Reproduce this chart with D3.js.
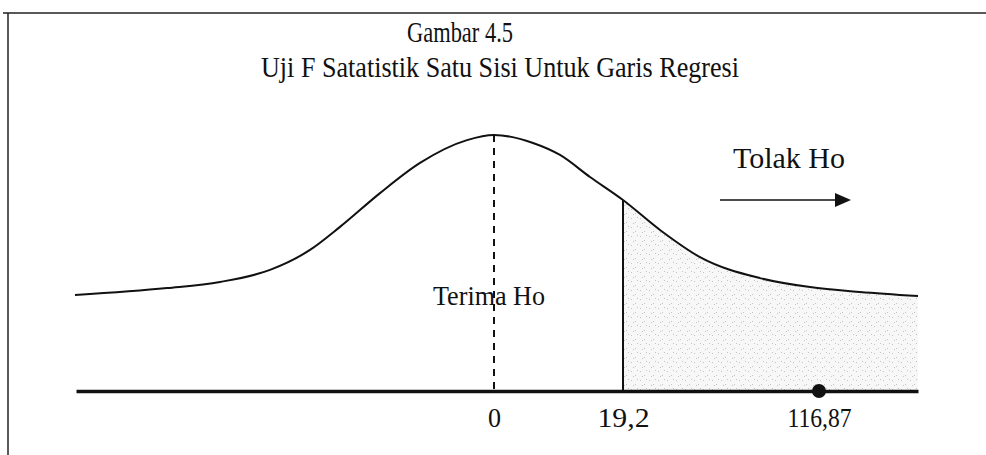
<!DOCTYPE html>
<html>
<head>
<meta charset="utf-8">
<script src="https://cdn.jsdelivr.net/npm/d3@7"></script>
<style>
  body { margin: 0; background: #fff; }
  svg text { font-family: "Liberation Serif", "DejaVu Serif", serif; fill: #111; }
</style>
</head>
<body>
<svg id="chart"></svg>
<script>
// schematic curve (x in units from centre, y as share of peak height)
const curveX = [-4.19, -3.27, -2.74, -2.24, -1.84, -1.54, -1.14, -0.74, -0.27, 0, 0.39, 0.66, 0.96, 1.29, 1.66, 2.06, 2.66, 3.16, 3.66, 4.24];
const curveY = [0.375, 0.402, 0.426, 0.473, 0.551, 0.641, 0.773, 0.891, 0.980, 1, 0.969, 0.922, 0.836, 0.746, 0.629, 0.523, 0.441, 0.406, 0.387, 0.371];

const tickPos = [0, 1.29, 3.25];
const tickLabels = ["0", "19,2", "116,87"];
const critical = 1.29;   // F tabel
const observed = 3.25;   // F hitung

const titleLines = ["Gambar 4.5", "Uji F Satatistik Satu Sisi Untuk Garis Regresi"];

const width = 986, height = 455;
const svg = d3.select("#chart").attr("width", width).attr("height", height);

const x = d3.scaleLinear().domain([-4.18, 4.24]).range([76, 918]);
const y = d3.scaleLinear().domain([0, 1]).range([391, 135]);

const pts = curveX.map((v, i) => ({x: v, y: curveY[i]}));

// the scanned type is a narrow Times: squeeze text to a measured width
function squeeze(sel, w) {
  sel.attr("textLength", w).attr("lengthAdjust", "spacingAndGlyphs");
}

// frame
svg.append("line").attr("x1", 3).attr("x2", 986).attr("y1", 13).attr("y2", 13)
  .attr("stroke", "#222").attr("stroke-width", 1.5);
svg.append("line").attr("x1", 8).attr("x2", 8).attr("y1", 13).attr("y2", 455)
  .attr("stroke", "#222").attr("stroke-width", 1.5);

// title
svg.selectAll(".title").data(titleLines).enter().append("text")
  .attr("class", "title")
  .attr("x", (d, i) => i == 0 ? 460 : 500)
  .attr("y", (d, i) => 42 + i * 35)
  .attr("text-anchor", "middle")
  .style("font-size", "30px")
  .attr("textLength", (d, i) => i == 0 ? 106 : 478)
  .attr("lengthAdjust", "spacingAndGlyphs")
  .text(d => d);

// stipple for the rejection area
const pat = svg.append("defs").append("pattern")
  .attr("id", "dots").attr("width", 9).attr("height", 9)
  .attr("patternUnits", "userSpaceOnUse");
pat.append("rect").attr("width", 9).attr("height", 9).attr("fill", "#f7f7f7");
[[1, 2], [5, 6], [7, 1], [3, 7]].forEach(p => {
  pat.append("rect").attr("x", p[0]).attr("y", p[1]).attr("width", 1).attr("height", 1).attr("fill", "#c4c4c4");
});

const area = d3.area()
  .x(d => x(d.x))
  .y0(y(0))
  .y1(d => y(d.y))
  .curve(d3.curveMonotoneX);

svg.append("path")
  .datum(pts.filter(d => d.x >= critical))
  .attr("fill", "url(#dots)")
  .attr("d", area);

const line = d3.line()
  .x(d => x(d.x))
  .y(d => y(d.y))
  .curve(d3.curveMonotoneX);

svg.append("path")
  .datum(pts)
  .attr("fill", "none")
  .attr("stroke", "#111")
  .attr("stroke-width", 2)
  .attr("d", line);

// centre dashed line
svg.append("line")
  .attr("x1", x(0)).attr("x2", x(0))
  .attr("y1", y(1)).attr("y2", y(0))
  .attr("stroke", "#111").attr("stroke-width", 2)
  .attr("stroke-dasharray", "7,6");

// critical value line
const critY = curveY[curveX.indexOf(critical)];
svg.append("line")
  .attr("x1", x(critical)).attr("x2", x(critical))
  .attr("y1", y(critY)).attr("y2", y(0))
  .attr("stroke", "#111").attr("stroke-width", 2);

// axis
const labelWidths = [13, 52, 64];
const axis = d3.axisBottom(x)
  .tickValues(tickPos)
  .tickFormat((d, i) => tickLabels[i])
  .tickSize(0)
  .tickPadding(16);

const axisG = svg.append("g")
  .attr("transform", `translate(0,${y(0)})`)
  .call(axis);
axisG.select(".domain").attr("stroke", "#111").attr("stroke-width", 3.5);
axisG.selectAll("text")
  .style("font-family", "Liberation Serif, serif")
  .style("font-size", "28px")
  .attr("fill", "#111")
  .attr("textLength", (d, i) => labelWidths[i])
  .attr("lengthAdjust", "spacingAndGlyphs");

// observed value marker
svg.append("circle")
  .attr("cx", x(observed)).attr("cy", y(0))
  .attr("r", 7).attr("fill", "#111");

// labels
svg.append("text")
  .attr("x", 433).attr("y", 305)
  .style("font-size", "27px")
  .text("Terima Ho")
  .call(squeeze, 112);

svg.append("text")
  .attr("x", 733).attr("y", 168)
  .style("font-size", "29px")
  .text("Tolak Ho")
  .call(squeeze, 112);

// arrow
svg.append("line")
  .attr("x1", 720).attr("x2", 836).attr("y1", 200).attr("y2", 200)
  .attr("stroke", "#111").attr("stroke-width", 1.5);
svg.append("path")
  .attr("d", "M835,193 L851,200 L835,207 Z")
  .attr("fill", "#111");
</script>
</body>
</html>
